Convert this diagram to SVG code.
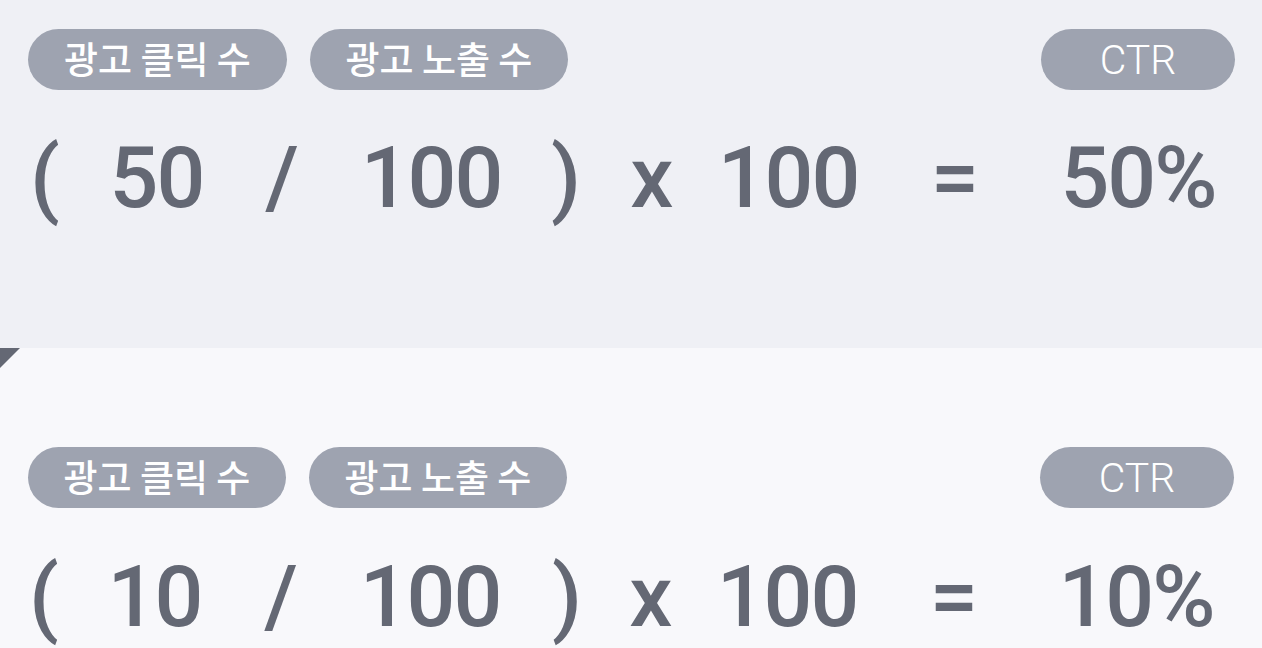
<svg xmlns="http://www.w3.org/2000/svg" width="1262" height="648" viewBox="0 0 1262 648">
<style>
.pill{fill:#9ea3b0}
.pt{fill:#ffffff;font-family:"Noto Sans CJK KR","Noto Sans",sans-serif;font-size:37px;font-weight:500;text-anchor:middle}
.ct{fill:#ffffff;font-family:Roboto,"Liberation Sans",sans-serif;font-size:41px;font-weight:300;text-anchor:middle}
.eq{fill:#646874;font-family:Roboto,"Liberation Sans",sans-serif;font-size:86px;font-weight:500;letter-spacing:-2px;text-anchor:middle}
</style>
<rect x="0" y="0" width="1262" height="348" fill="#eff0f5"/>
<rect x="0" y="348" width="1262" height="300" fill="#f8f8fb"/>
<polygon points="0,348 20,348 0,368" fill="#646874"/>
<g id="top-click"><rect class="pill" x="28" y="29" width="259" height="61" rx="30.5"/><text class="pt" x="157.5" y="74">광고 클릭 수</text></g>
<g id="top-impr"><rect class="pill" x="310" y="29" width="258" height="61" rx="30.5"/><text class="pt" x="439" y="74">광고 노출 수</text></g>
<g id="top-ctr"><rect class="pill" x="1041" y="29" width="194" height="61" rx="30.5"/><text class="ct" x="1138" y="74">CTR</text></g>
<g id="top-formula">
<text class="eq" x="44" y="207">(</text>
<text class="eq" x="156.5" y="207">50</text>
<text class="eq" x="281" y="207">/</text>
<text class="eq" x="431" y="207">100</text>
<text class="eq" x="565" y="207">)</text>
<text class="eq" x="651" y="207">x</text>
<text class="eq" x="788" y="207">100</text>
<text class="eq" x="954" y="207">=</text>
<text class="eq" x="1138" y="207">50%</text>
</g>
<g id="bot-click"><rect class="pill" x="28" y="447" width="258" height="61" rx="30.5"/><text class="pt" x="157" y="492">광고 클릭 수</text></g>
<g id="bot-impr"><rect class="pill" x="309" y="447" width="258" height="61" rx="30.5"/><text class="pt" x="438" y="492">광고 노출 수</text></g>
<g id="bot-ctr"><rect class="pill" x="1040" y="447" width="194" height="61" rx="30.5"/><text class="ct" x="1137" y="492">CTR</text></g>
<g id="bot-formula">
<text class="eq" x="43" y="626">(</text>
<text class="eq" x="154.5" y="626">10</text>
<text class="eq" x="280" y="626">/</text>
<text class="eq" x="430" y="626">100</text>
<text class="eq" x="566" y="626">)</text>
<text class="eq" x="650" y="626">x</text>
<text class="eq" x="787" y="626">100</text>
<text class="eq" x="953" y="626">=</text>
<text class="eq" x="1136" y="626">10%</text>
</g>
<g id="connectors"></g>
</svg>
